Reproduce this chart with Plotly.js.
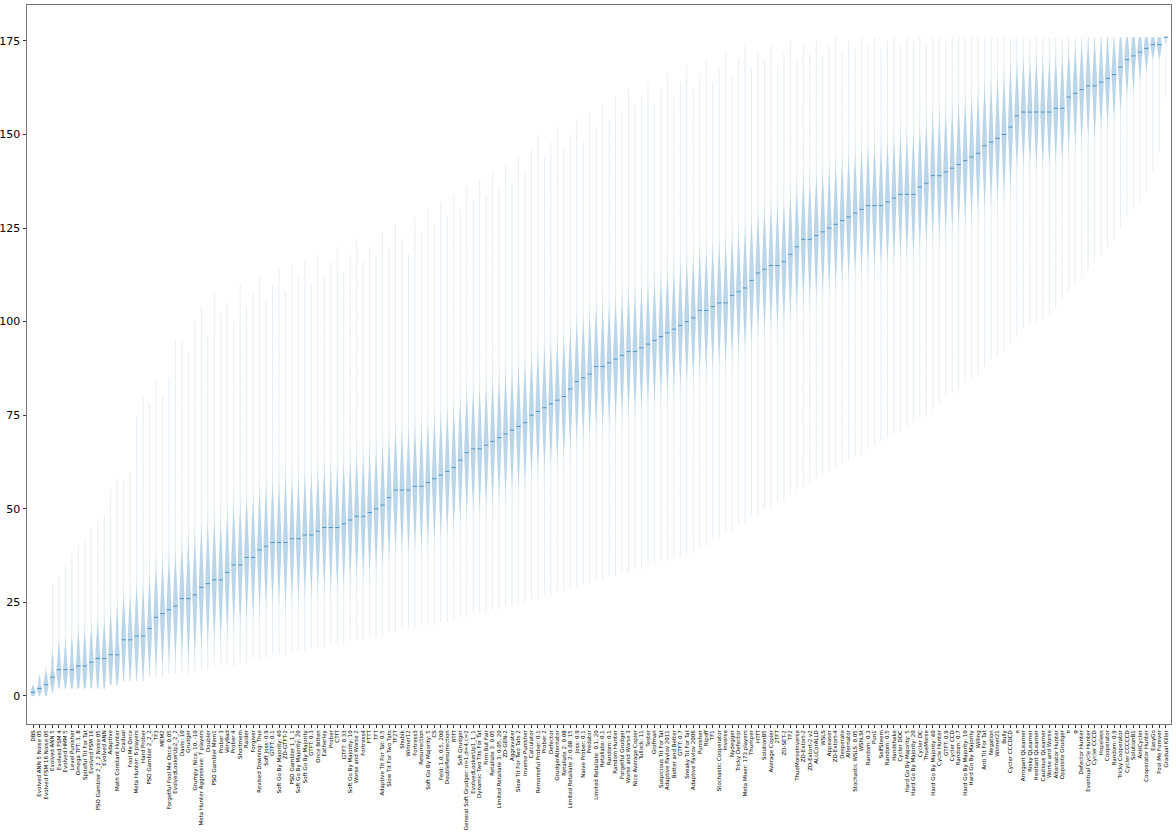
<!DOCTYPE html>
<html>
<head>
<meta charset="utf-8">
<script src="https://cdn.plot.ly/plotly-3.0.1.min.js"></script>
<style>
  html, body { margin: 0; padding: 0; background: #fff; }
  #chart { width: 1176px; height: 832px; }
</style>
</head>
<body>
<div id="chart"></div>
<script>
// players in ranked order (x axis)
const players = [
  "DBS", "Evolved ANN 5 Noise 05", "Evolved FSM 16 Noise 05", "Evolved ANN 5", "Evolved FSM 4",
  "Evolved HMM 5", "Level Punisher", "Omega TFT: 3, 8", "Spiteful Tit For Tat", "Evolved FSM 16",
  "PSO Gambler 2_2_2 Noise 05", "Evolved ANN", "Adaptive", "Math Constant Hunter", "Gradual",
  "Fool Me Once", "Meta Hunter: 6 players", "Hard Prober", "PSO Gambler 2_2_2", "TF3",
  "MEM2", "Forgetful Fool Me Once: 0.05", "EvolvedLookerUp2_2_2", "Davis: 10", "Grudger",
  "Grumpy: Nice, 10, -10", "Meta Hunter Aggressive: 7 players", "Doubler", "PSO Gambler Mem1", "Prober 3",
  "VeryBad", "Prober 4", "Shortmem", "Raider", "Forgiver",
  "Revised Downing: True", "Soft Joss: 0.9", "GTFT: 0.1", "Soft Go By Majority: 40", "ZD-GTFT-2",
  "PSO Gambler 1_1_1", "Soft Go By Majority: 20", "Soft Go By Majority", "GTFT: 0.3", "Once Bitten",
  "Eatherley", "Prober", "CTfT", "GTFT: 0.33", "Soft Go By Majority: 10",
  "Worse and Worse 2", "Fortress4", "FTTT", "TFT", "Adaptive Tit For Tat: 0.5",
  "Slow Tit For Two Tats", "TF2T", "Shubik", "Winner12", "Fortress3",
  "Resurrection", "Soft Go By Majority: 5", "CS", "Feld: 1.0, 0.5, 200", "DoubleResurrection",
  "RTfT", "Soft Grudger", "General Soft Grudger: n=1,d=4,c=2", "EvolvedLookerUp1_1_1", "Dynamic Two Tits For Tat",
  "Firm But Fair", "Retaliate 3: 0.05", "Limited Retaliate 3: 0.05, 20", "ZD-GEN-2", "Aggravater",
  "Slow Tit For Two Tats 2", "Inverse Punisher", "Calculator", "Remorseful Prober: 0.1", "Prober 2",
  "Defector", "GrudgerAlternator", "Retaliate 2: 0.08", "Limited Retaliate 2: 0.08, 15", "Joss: 0.9",
  "Naive Prober: 0.1", "Predator", "Limited Retaliate: 0.1, 20", "Retaliate: 0.1", "Random: 0.1",
  "Random Hunter", "Forgetful Grudger", "Worse and Worse 3", "Nice Average Copier", "Tullock: 11",
  "Tester", "Grofman", "Suspicious Tit For Tat", "Adaptive Pavlov 2011", "Better and Better",
  "GTFT: 0.7", "Sneaky Tit For Tat", "Adaptive Pavlov 2006", "Punisher", "Ripoff",
  "TF1", "Stochastic Cooperator", "Inverse", "Nydegger", "Tricky Defector",
  "Meta Mixer: 173 players", "Thumper", "HTfT", "SolutionB5", "Average Copier",
  "2TFT", "ZD-SET-2", "TF2", "ThueMorseInverse", "ZD-Extort-2",
  "ZD-Extort-2 v2", "ALLCorALLD", "WSLS", "Appeaser", "ZD-Extort-4",
  "Desperate", "Alternator", "Stochastic WSLS: 0.05", "WShLSt", "Random: 0.3",
  "Pun1", "SelfSteem", "Random: 0.5", "Handshake", "Cycler DDC",
  "Hard Go By Majority: 5", "Hard Go By Majority: 20", "Cycler DC", "ThueMorse", "Hard Go By Majority: 40",
  "Cycle Hunter", "GTFT: 0.9", "Cycler CCD", "Random: 0.7", "Hard Go By Majority: 10",
  "Hard Go By Majority", "Willing", "Anti Tit For Tat", "Negation", "Winner21",
  "Bully", "Cycler CCCDCD", "e", "Arrogant QLearner", "Risky QLearner",
  "Hesitant QLearner", "Cautious QLearner", "Worse and Worse", "Alternator Hunter", "Opposite Grudger",
  "π", "φ", "Defector Hunter", "Eventual Cycle Hunter", "Cycler CCCD",
  "Hopeless", "Cooperator", "Random: 0.9", "Tricky Cooperator", "Cycler CCCCCD",
  "SolutionB1", "AntiCycler", "Cooperator Hunter", "EasyGo", "Fool Me Forever",
  "Gradual Killer"
];

// median rank of each player
const medians = [
  1, 2, 3, 5, 7, 7, 7, 8, 8, 9,
  10, 10, 11, 11, 15, 15, 16, 16, 18, 21,
  22, 23, 24, 26, 26, 27, 29, 30, 31, 31,
  33, 35, 35, 37, 37, 39, 40, 41, 41, 41,
  42, 42, 43, 43, 44, 45, 45, 45, 46, 47,
  48, 48, 49, 50, 51, 53, 55, 55, 55, 56,
  56, 57, 58, 59, 60, 61, 63, 65, 66, 66,
  67, 68, 69, 70, 71, 72, 73, 75, 76, 77,
  78, 79, 80, 82, 84, 85, 86, 88, 88, 89,
  90, 91, 92, 92, 93, 94, 95, 96, 97, 98,
  99, 100, 101, 103, 103, 104, 105, 105, 107, 108,
  109, 111, 113, 114, 115, 115, 116, 118, 120, 122,
  122, 123, 124, 125, 126, 127, 128, 129, 130, 131,
  131, 131, 132, 133, 134, 134, 134, 136, 137, 139,
  139, 140, 141, 142, 143, 144, 145, 147, 148, 149,
  150, 152, 155, 156, 156, 156, 156, 156, 157, 157,
  160, 161, 162, 163, 163, 164, 165, 166, 168, 170,
  171, 172, 173, 174, 174, 176
];

// thick part of each violin
const bodyLow = [
  0, 1, 1, 3, 4, 4, 4, 4, 4, 5,
  5, 5, 6, 6, 9, 9, 10, 10, 12, 14,
  15, 16, 17, 18, 18, 19, 21, 22, 23, 23,
  25, 27, 27, 29, 29, 31, 32, 33, 33, 33,
  34, 34, 35, 35, 36, 37, 37, 37, 38, 39,
  40, 40, 41, 42, 43, 45, 47, 47, 47, 48,
  48, 49, 50, 51, 52, 53, 55, 57, 58, 58,
  59, 60, 61, 62, 63, 64, 65, 67, 68, 69,
  70, 71, 72, 74, 76, 77, 78, 80, 80, 81,
  82, 83, 84, 84, 85, 86, 87, 88, 89, 90,
  91, 92, 93, 95, 95, 96, 97, 97, 99, 100,
  101, 103, 105, 106, 107, 107, 108, 110, 112, 114,
  114, 115, 116, 117, 118, 119, 120, 121, 122, 123,
  123, 123, 124, 125, 126, 126, 126, 128, 129, 131,
  131, 132, 133, 134, 135, 136, 137, 139, 140, 141,
  142, 144, 148, 149, 149, 149, 149, 149, 150, 150,
  153, 154, 155, 156, 156, 158, 159, 160, 162, 165,
  166, 168, 170, 172, 172, 175
];
const bodyHigh = [
  2, 4, 5, 9, 11, 11, 12, 13, 13, 14,
  15, 15, 17, 18, 21, 21, 23, 23, 25, 28,
  29, 30, 31, 33, 34, 35, 37, 38, 39, 39,
  41, 43, 43, 45, 45, 47, 48, 49, 49, 50,
  50, 50, 51, 51, 52, 53, 53, 53, 54, 55,
  56, 56, 57, 58, 59, 61, 63, 63, 63, 64,
  64, 65, 66, 67, 68, 69, 71, 73, 74, 74,
  75, 76, 77, 78, 79, 80, 81, 83, 84, 85,
  86, 87, 88, 90, 92, 93, 94, 96, 96, 97,
  98, 99, 100, 100, 101, 102, 103, 104, 105, 106,
  107, 108, 109, 111, 111, 112, 113, 113, 115, 116,
  117, 119, 121, 122, 123, 123, 124, 126, 128, 130,
  130, 131, 132, 133, 134, 135, 136, 137, 138, 139,
  139, 139, 140, 141, 142, 142, 142, 144, 145, 147,
  147, 148, 149, 150, 151, 152, 153, 155, 156, 157,
  158, 160, 162, 163, 163, 163, 163, 163, 164, 164,
  166, 167, 168, 169, 169, 170, 171, 171, 173, 174,
  175, 175, 176, 176, 176, 176
];

// thin tails: lowest and highest rank reached
const tailLow = [
  0, 0, 0, 1, 2, 2, 2, 2, 2, 2,
  2, 2, 3, 3, 4, 4, 4, 4, 5, 5,
  5, 6, 6, 6, 6, 7, 7, 7, 8, 8,
  8, 8, 9, 9, 10, 10, 10, 11, 11, 11,
  12, 12, 12, 13, 13, 13, 14, 14, 14, 15,
  15, 15, 16, 16, 16, 17, 17, 18, 18, 18,
  19, 19, 19, 20, 20, 20, 21, 21, 22, 22,
  22, 23, 23, 24, 24, 25, 25, 26, 26, 27,
  27, 28, 28, 29, 29, 30, 30, 31, 31, 32,
  32, 33, 33, 34, 34, 35, 35, 36, 36, 37,
  37, 38, 38, 40, 40, 42, 42, 44, 44, 46,
  46, 48, 48, 50, 50, 52, 52, 54, 55, 56,
  57, 58, 59, 60, 61, 62, 63, 64, 65, 66,
  67, 68, 69, 70, 71, 72, 73, 74, 75, 76,
  78, 80, 81, 82, 84, 85, 86, 88, 90, 91,
  92, 94, 96, 98, 99, 100, 101, 102, 104, 106,
  108, 110, 112, 114, 116, 118, 120, 122, 125, 128,
  130, 132, 135, 140, 145, 160
];
const tailHigh = [
  3, 6, 8, 30, 32, 35, 38, 40, 42, 45,
  47, 48, 55, 58, 57, 60, 75, 80, 78, 84,
  80, 85, 95, 95, 92, 100, 104, 96, 108, 102,
  105, 100, 110, 104, 108, 112, 106, 110, 114, 108,
  115, 112, 116, 110, 118, 112, 116, 120, 113, 118,
  122, 116, 120, 118, 124, 120, 126, 122, 118, 128,
  124, 130, 126, 132, 128, 134, 130, 136, 132, 138,
  134, 140, 136, 142, 138, 144, 140, 146, 150, 144,
  148, 152, 146, 150, 154, 148, 156, 152, 158, 154,
  160, 156, 162, 158, 160, 164, 158, 162, 166, 160,
  164, 168, 162, 166, 170, 164, 168, 172, 166, 170,
  174, 168, 172, 170, 174, 168, 172, 175, 170, 174,
  172, 175, 171, 174, 176, 172, 175, 173, 176, 174,
  176, 173, 175, 176, 174, 176, 175, 176, 174, 176,
  176, 175, 176, 176, 176, 176, 176, 176, 176, 176,
  176, 176, 176, 176, 176, 176, 176, 176, 176, 176,
  176, 176, 176, 176, 176, 176, 176, 176, 176, 176,
  176, 176, 176, 176, 176, 176
];

const yTicks = [0, 25, 50, 75, 100, 125, 150, 175];

const violins = players.map((p, i) => ({
  type: 'violin',
  x0: p,
  y: [bodyLow[i], medians[i], medians[i], bodyHigh[i]],
  spanmode: 'manual',
  span: [tailLow[i], tailHigh[i]],
  bandwidth: Math.max(0.25, (bodyHigh[i] - bodyLow[i]) / 4),
  scalemode: 'width',
  width: 0.72,
  points: false,
  box: {visible: false},
  meanline: {visible: false},
  fillcolor: 'rgba(31,119,180,0.3)',
  line: {color: 'rgba(31,119,180,0.12)', width: 0.5},
  hoverinfo: 'skip',
  showlegend: false
}));

// small median marks
const medianMarks = {
  type: 'scatter',
  mode: 'markers',
  x: players,
  y: medians,
  marker: {symbol: 'line-ew-open', size: 3, color: 'rgba(31,119,180,0.7)', line: {color: 'rgba(31,119,180,0.7)', width: 1}},
  hoverinfo: 'skip',
  showlegend: false
};

const layout = {
  width: 1176,
  height: 832,
  margin: {l: 27, r: 5, t: 5, b: 108},
  paper_bgcolor: '#fff',
  plot_bgcolor: '#fff',
  violinmode: 'overlay',
  showlegend: false,
  font: {family: 'DejaVu Sans, sans-serif', color: '#000'},
  xaxis: {
    type: 'category',
    categoryorder: 'array',
    categoryarray: players,
    range: [-0.93, 175.8],
    tickmode: 'linear', tick0: 0, dtick: 1,
    tickangle: -90,
    tickfont: {size: 5.5, family: 'DejaVu Sans, sans-serif'},
    ticks: 'outside', ticklen: 3, tickwidth: 0.8, tickcolor: '#000',
    showgrid: false, zeroline: false,
    showline: true, mirror: true, linecolor: '#777', linewidth: 1,
    automargin: false
  },
  yaxis: {
    range: [-7.5, 184.6],
    tickmode: 'array', tickvals: yTicks, ticktext: yTicks.map(String),
    tickfont: {size: 11, family: 'DejaVu Sans, sans-serif'},
    ticks: 'outside', ticklen: 3.5, tickwidth: 0.8, tickcolor: '#000',
    showgrid: false, zeroline: false,
    showline: true, mirror: true, linecolor: '#777', linewidth: 1,
    automargin: false
  }
};

Plotly.newPlot('chart', violins.concat([medianMarks]), layout, {displayModeBar: false, staticPlot: true});
</script>
</body>
</html>
